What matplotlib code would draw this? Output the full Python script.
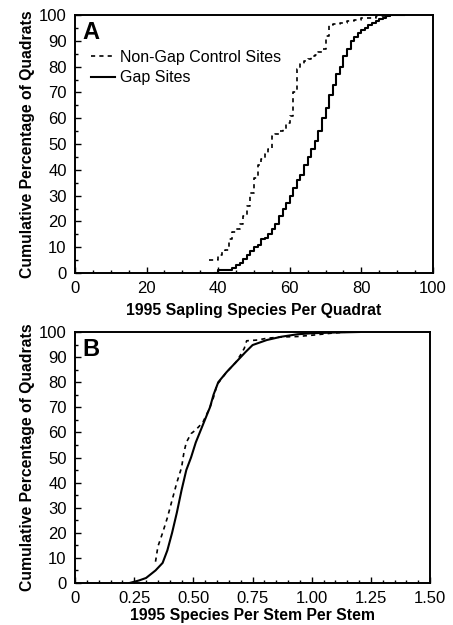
import numpy as np
import matplotlib
matplotlib.use('Agg')
import matplotlib.pyplot as plt
from matplotlib.ticker import MultipleLocator, FixedLocator

plt.rcParams['font.family'] = ['Liberation Sans', 'DejaVu Sans']

# Panel A: 1995 sapling species per quadrat (cumulative %)
a_gap_x = [39, 40, 44, 45, 46, 47, 48, 49, 50, 51, 52, 53, 54, 55, 56, 57, 58, 59,
           60, 61, 62, 63, 64, 65, 66, 67, 68, 69, 70, 71, 72, 73, 74, 75, 76, 77,
           78, 79, 80, 81, 82, 83, 84, 85, 86, 87, 88, 92]
a_gap_y = [0, 1, 2, 3, 4, 5.5, 7, 8.5, 10, 11, 13, 13.5, 15, 17, 19, 22, 25, 27,
           30, 33, 36, 38, 42, 45, 48, 51, 55, 60, 64, 69, 73, 77, 80, 84, 87, 90,
           91.5, 93, 94, 95, 96, 97, 97.7, 98.3, 99, 99.5, 100, 100]

a_ctrl_x = [37.5, 40, 41, 42, 43, 44, 45, 46, 47, 48, 49, 50, 51, 52, 53, 54, 55,
            56, 57, 58, 59, 60, 61, 62, 63, 64, 65, 66, 67, 68, 69, 70, 71, 72,
            74, 76, 78, 80, 82, 84, 86, 88]
a_ctrl_y = [5, 7, 8, 9, 13, 16, 17, 19, 22, 26, 31, 37, 42, 44, 46, 48, 53,
            54, 55, 56, 58, 61, 70, 79, 81, 82, 83, 84, 84.5, 85.5, 87, 92, 96, 96.5,
            97, 97.5, 98, 98.7, 99, 99.5, 99.8, 100]

# Panel B: 1995 species per stem (cumulative %)
b_gap_x = [0.23, 0.27, 0.30, 0.34, 0.37, 0.39, 0.41, 0.43, 0.45, 0.47, 0.49, 0.51,
           0.54, 0.57, 0.585, 0.605, 0.64, 0.68, 0.72, 0.75, 0.81, 0.87, 0.94, 1.00,
           1.10, 1.20]
b_gap_y = [0, 1, 2, 5, 8, 13, 20, 28, 37, 45, 50, 56,
           63, 70, 75, 80, 84, 88, 92, 94.8, 96.8, 98.1, 99.1, 99.5,
           99.8, 100]

b_ctrl_x = [0.34, 0.35, 0.37, 0.39, 0.41, 0.43, 0.45, 0.46, 0.47, 0.49, 0.51, 0.54,
            0.57, 0.585, 0.60, 0.64, 0.68, 0.70, 0.715, 0.725, 0.77, 0.81, 0.87,
            0.94, 1.01, 1.08, 1.15]
b_ctrl_y = [8.5, 14.5, 20, 26, 33, 40, 46, 52, 56, 59.5, 61, 64,
            70, 74, 79, 84, 88, 91, 93.5, 96.5, 96.8, 97.5, 98,
            98.2, 98.8, 99.5, 100]

ylabel = 'Cumulative Percentage of Quadrats'
b_xticks = [0, 0.25, 0.5, 0.75, 1.0, 1.25, 1.5]
b_xticklabels = ['0', '0.25', '0.50', '0.75', '1.00', '1.25', '1.50']

fig = plt.figure(figsize=(4.53, 6.25), dpi=100)
ax_a = fig.add_axes([0.1656, 0.5632, 0.790, 0.4128])
ax_b = fig.add_axes([0.1656, 0.0672, 0.784, 0.4016])

dash = (0, (2.5, 2.5))

# ---- panel A
ax_a.step(a_ctrl_x, a_ctrl_y, where='post', color='black', lw=1.2, ls=dash,
          label='Non-Gap Control Sites')
ax_a.step(a_gap_x, a_gap_y, where='post', color='black', lw=1.5, label='Gap Sites')
ax_a.set_xlim(0, 100)
ax_a.set_ylim(0, 100)
ax_a.xaxis.set_major_locator(MultipleLocator(20))
ax_a.xaxis.set_minor_locator(MultipleLocator(5))
ax_a.set_xlabel('1995 Sapling Species Per Quadrat', fontsize=11.3, fontweight='bold',
                labelpad=5)
ax_a.text(0.02, 0.975, 'A', transform=ax_a.transAxes, fontsize=17, fontweight='bold',
          va='top', ha='left')
ax_a.legend(loc='upper left', bbox_to_anchor=(0.045, 0.865), frameon=False,
            fontsize=11.5, handlelength=1.5, handletextpad=0.3, labelspacing=0.35,
            borderpad=0, borderaxespad=0)

# ---- panel B
ax_b.plot(b_ctrl_x, b_ctrl_y, color='black', lw=1.2, ls=dash)
ax_b.plot(b_gap_x, b_gap_y, color='black', lw=1.5)
ax_b.set_xlim(0, 1.5)
ax_b.set_ylim(0, 100)
ax_b.xaxis.set_major_locator(FixedLocator(b_xticks))
ax_b.set_xticklabels(b_xticklabels)
ax_b.xaxis.set_minor_locator(MultipleLocator(0.05))
ax_b.set_xlabel('1995 Species Per Stem Per Stem', fontsize=11.3, fontweight='bold',
                labelpad=1.5)
ax_b.text(0.02, 0.975, 'B', transform=ax_b.transAxes, fontsize=17, fontweight='bold',
          va='top', ha='left')

for ax in (ax_a, ax_b):
    ax.yaxis.set_major_locator(MultipleLocator(10))
    ax.yaxis.set_minor_locator(MultipleLocator(5))
    ax.set_ylabel(ylabel, fontsize=11.3, fontweight='bold', labelpad=3)
    ax.tick_params(which='both', direction='in', labelsize=12, width=1)
    ax.tick_params(which='major', length=4, pad=6)
    ax.tick_params(which='minor', length=2)
    for s in ax.spines.values():
        s.set_linewidth(1.4)

fig.savefig('out.png', dpi=100)
